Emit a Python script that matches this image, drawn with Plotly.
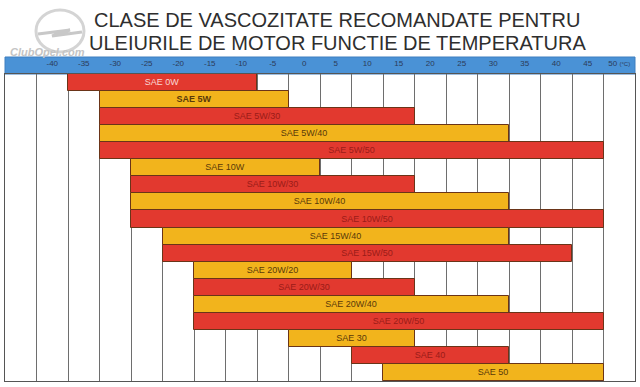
import plotly.graph_objects as go

grades = ["SAE 0W", "SAE 5W", "SAE 5W/30", "SAE 5W/40", "SAE 5W/50",
          "SAE 10W", "SAE 10W/30", "SAE 10W/40", "SAE 10W/50",
          "SAE 15W/40", "SAE 15W/50",
          "SAE 20W/20", "SAE 20W/30", "SAE 20W/40", "SAE 20W/50",
          "SAE 30", "SAE 40", "SAE 50"]
t_min = [-35, -30, -30, -30, -30, -25, -25, -25, -25, -20, -20,
         -15, -15, -15, -15, 0, 10, 15]
t_max = [-10, -5, 15, 30, 45, 0, 15, 30, 45, 30, 40,
         5, 15, 30, 45, 15, 30, 45]
tick_vals = [-40, -35, -30, -25, -20, -15, -10, -5, 0, 5, 10, 15, 20, 25, 30, 35, 40, 45, 50]
tick_text = [str(v) for v in tick_vals[:-1]] + ["50 <span style='font-size:6px'>(°C)</span>"]

RED = "#e2392f"
YELLOW = "#f2b41c"
half = 2.5  # each column covers +/- 2.5 degrees around its label

colors = [RED if i % 2 == 0 else YELLOW for i in range(len(grades))]
text_colors = []
labels = []
for i, g in enumerate(grades):
    if i == 0:
        text_colors.append("#f8d8d4")
    elif i % 2 == 0:
        text_colors.append("#9a1c18")
    else:
        text_colors.append("#5a3a0a")
    labels.append("<b>" + g + "</b>" if g == "SAE 5W" else g)

fig = go.Figure(go.Bar(
    y=grades,
    x=[b - a + 2 * half for a, b in zip(t_min, t_max)],
    base=[a - half for a in t_min],
    orientation="h",
    marker=dict(color=colors, line=dict(color="#6a3418", width=1)),
    text=labels,
    textposition="inside",
    insidetextanchor="middle",
    textangle=0,
    constraintext="none",
    textfont=dict(size=9, color=text_colors, family="Liberation Sans, Arial, sans-serif"),
    hoverinfo="skip",
))

fig.update_layout(
    width=640, height=387,
    margin=dict(l=5, r=5, t=74, b=6),
    paper_bgcolor="white", plot_bgcolor="white",
    bargap=0,
    showlegend=False,
    font=dict(family="Liberation Sans, Arial, sans-serif"),
    xaxis=dict(
        range=[-47.5, 52.5], side="top",
        tickvals=tick_vals, ticktext=tick_text,
        tickfont=dict(size=8, color="#2c3b58"),
        ticks="", showgrid=False, zeroline=False,
        minor=dict(tick0=-47.5, dtick=5, showgrid=True, gridcolor="#6e6e6e", gridwidth=1, ticks=""),
        showline=True, linecolor="#555", linewidth=1, mirror=True,
        ticklabelstandoff=4,
    ),
    yaxis=dict(
        autorange="reversed", showticklabels=False, showgrid=False,
        zeroline=False, showline=True, linecolor="#555", linewidth=1, mirror=True,
    ),
    shapes=[
        dict(type="rect", xref="paper", yref="paper", x0=0, x1=1,
             y0=1, y1=1 + 17 / 307, fillcolor="#4a92d6",
             line=dict(color="#3f7fbf", width=1), layer="below"),
        dict(type="circle", xref="paper", yref="paper",
             x0=(36 - 5) / 630, x1=(84 - 5) / 630,
             y0=(381 - 52) / 307, y1=(381 - 10) / 307,
             line=dict(color="#d4d4d4", width=3), layer="below"),
        dict(type="path", xref="paper", yref="paper",
             path="M {:.4f},{:.4f} L {:.4f},{:.4f} L {:.4f},{:.4f} L {:.4f},{:.4f}".format(
                 (38 - 5) / 630, (381 - 34) / 307,
                 (70 - 5) / 630, (381 - 30) / 307,
                 (52 - 5) / 630, (381 - 36) / 307,
                 (82 - 5) / 630, (381 - 32) / 307),
             line=dict(color="#c8c8c8", width=3), layer="below"),
    ],
    annotations=[
        dict(text="CLASE DE VASCOZITATE RECOMANDATE PENTRU",
             xref="paper", yref="paper", x=(337 - 5) / 630, y=(381 - 20) / 307,
             xanchor="center", yanchor="middle", showarrow=False,
             font=dict(size=20, color="#2e2e2e")),
        dict(text="ULEIURILE DE MOTOR FUNCTIE DE TEMPERATURA",
             xref="paper", yref="paper", x=(337 - 5) / 630, y=(381 - 43) / 307,
             xanchor="center", yanchor="middle", showarrow=False,
             font=dict(size=20, color="#2e2e2e")),
        dict(text="<b><i>ClubOpel.com</i></b>",
             xref="paper", yref="paper", x=(48 - 5) / 630, y=(381 - 52) / 307,
             xanchor="center", yanchor="middle", showarrow=False,
             font=dict(size=11, color="#c4c4c4")),
    ],
)

fig.write_html("out.html")
